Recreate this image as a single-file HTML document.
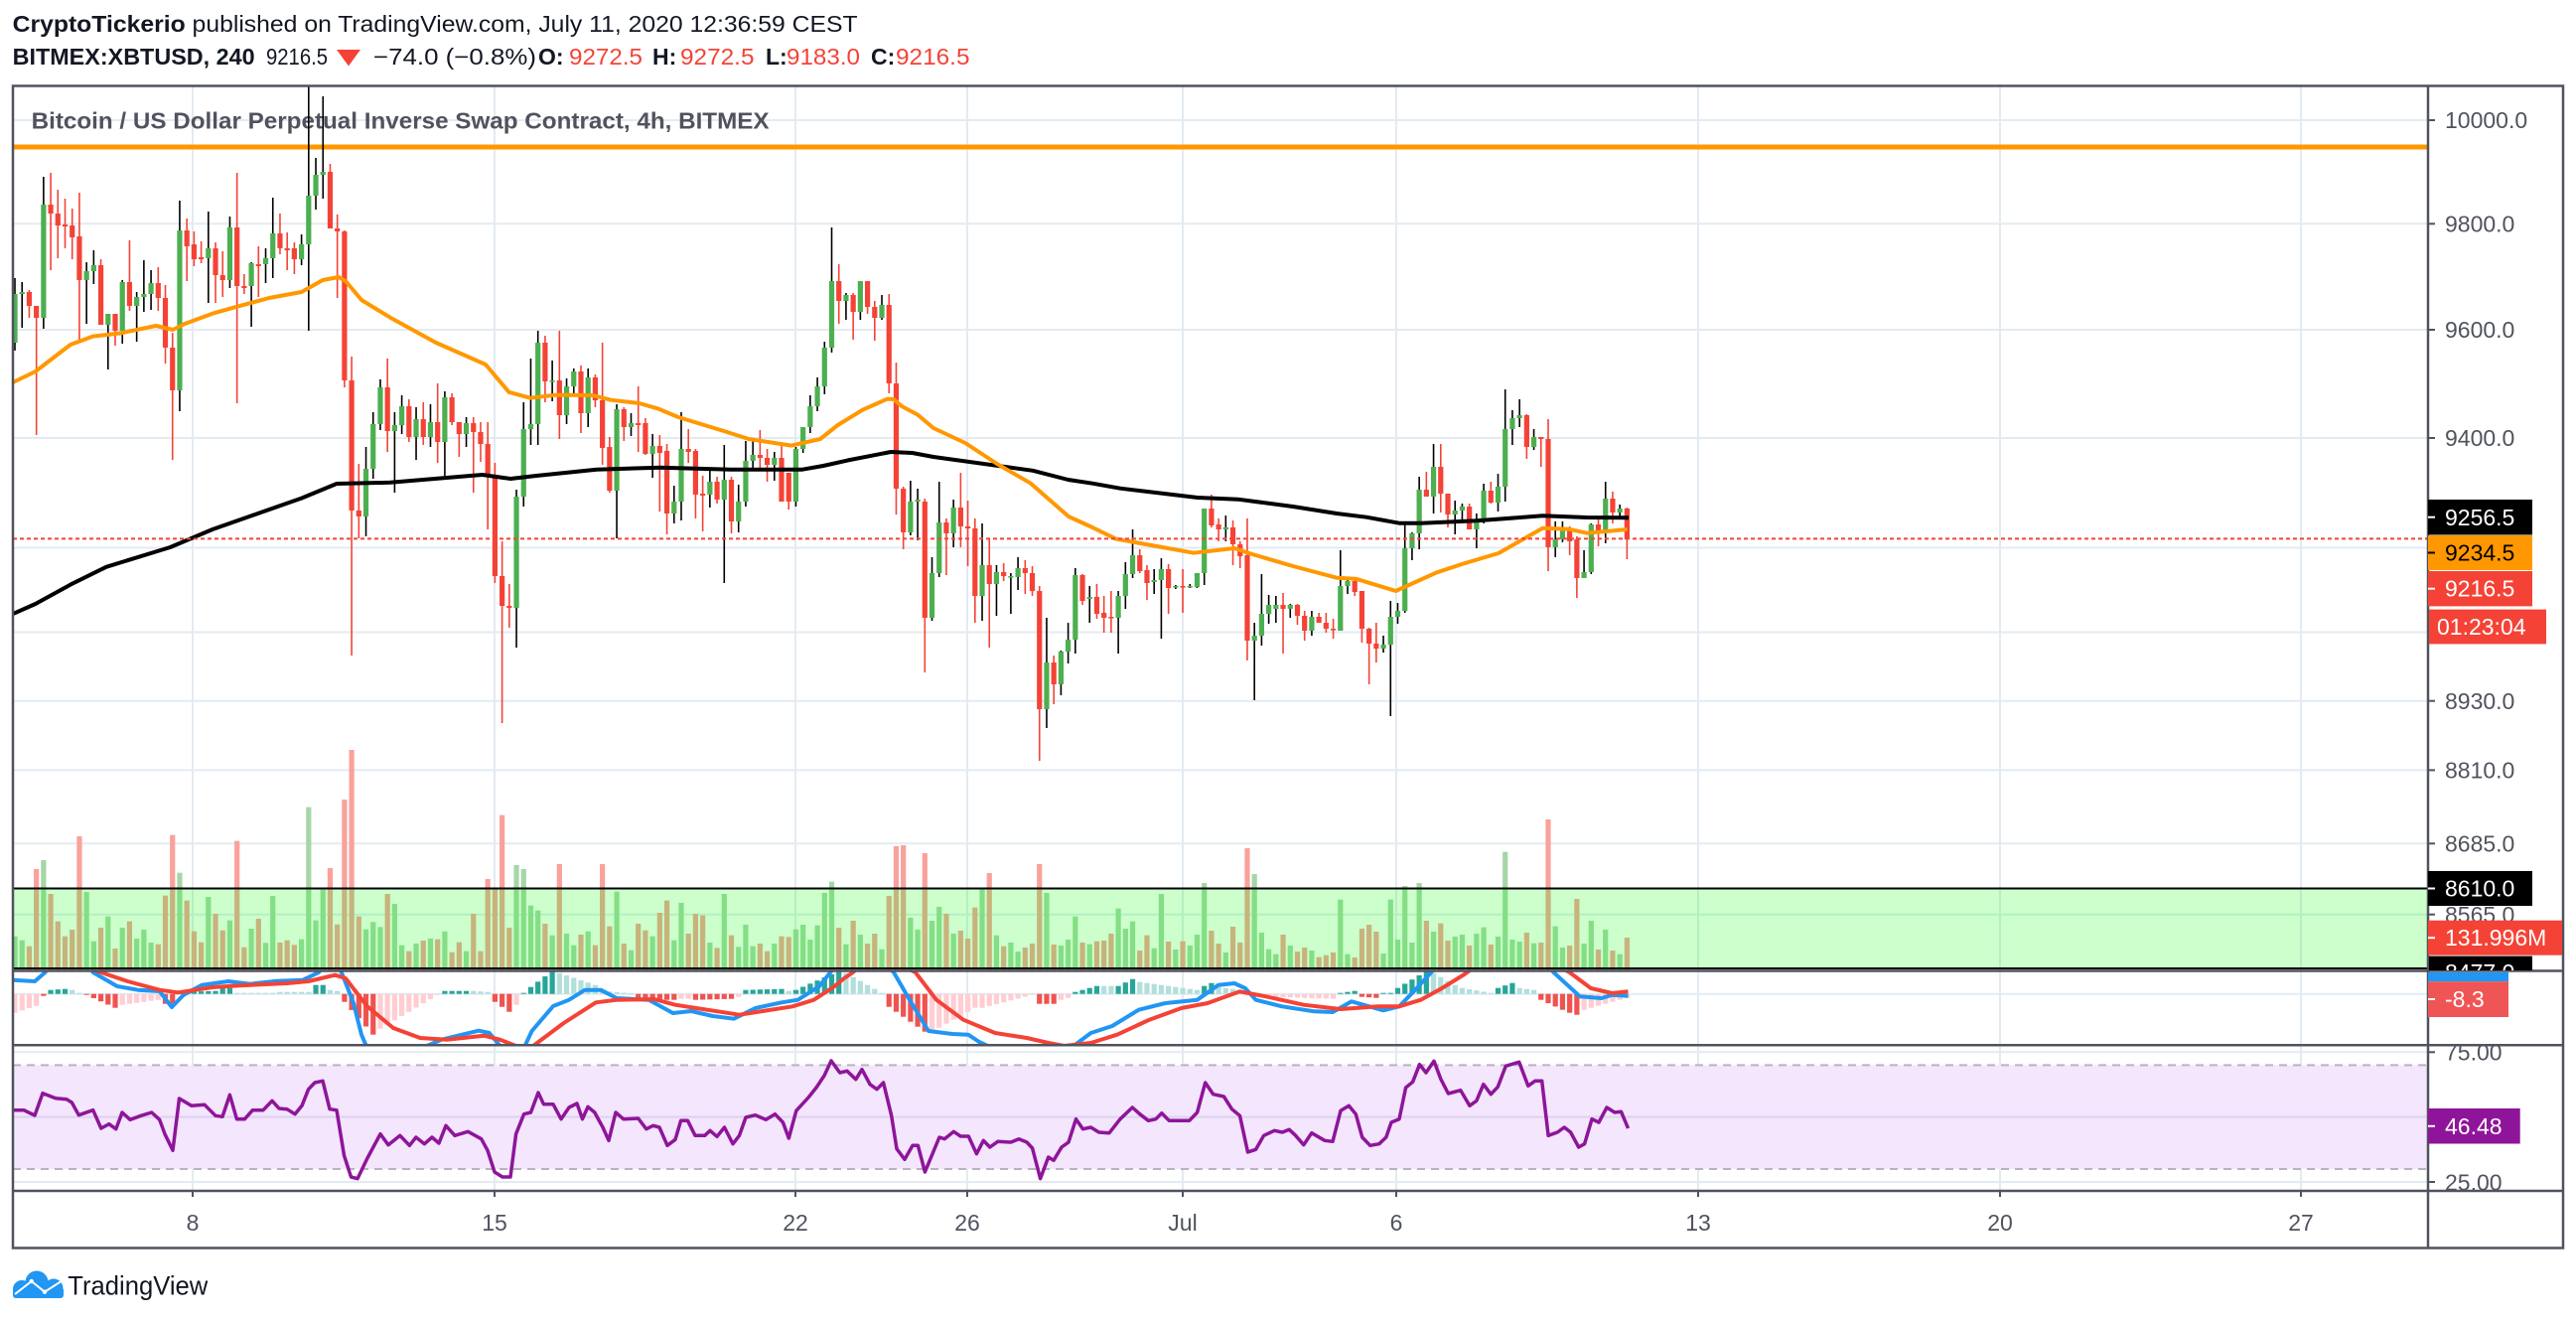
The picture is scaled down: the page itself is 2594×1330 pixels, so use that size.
<!DOCTYPE html>
<html><head><meta charset="utf-8"><style>
html,body{margin:0;padding:0;background:#fff;}
svg{display:block;}
text{font-family:"Liberation Sans",Arial,sans-serif;}
</style></head><body>
<svg id="s" width="2594" height="1330" viewBox="0 0 2594 1330" xmlns="http://www.w3.org/2000/svg">
<defs>
<clipPath id="cMain"><rect x="13" y="87" width="2432" height="890"/></clipPath>
<clipPath id="cMacd"><rect x="13" y="978.5" width="2432" height="73"/></clipPath>
<clipPath id="cRsi"><rect x="13" y="1053.5" width="2432" height="145"/></clipPath>
<clipPath id="cAx1"><rect x="2446" y="87" width="136" height="890"/></clipPath>
<clipPath id="cAx3"><rect x="2446" y="1053.5" width="136" height="145"/></clipPath>
</defs>
<rect x="0" y="0" width="2594" height="1330" fill="#fff"/>

<!-- header -->
<text x="12.6" y="32" font-size="23" fill="#131722" textLength="851" lengthAdjust="spacingAndGlyphs"><tspan font-weight="bold">CryptoTickerio</tspan> published on TradingView.com, July 11, 2020 12:36:59 CEST</text>
<text x="12.6" y="65" font-size="23" font-weight="bold" fill="#131722" textLength="244" lengthAdjust="spacingAndGlyphs">BITMEX:XBTUSD, 240</text>
<text x="268" y="65" font-size="23" fill="#131722" textLength="62" lengthAdjust="spacingAndGlyphs">9216.5</text>
<polygon points="339,50 363,50 351,66.5" fill="#f44336"/>
<text x="376" y="65" font-size="23" fill="#131722" textLength="164" lengthAdjust="spacingAndGlyphs">−74.0 (−0.8%)</text>
<text x="542" y="65" font-size="23" font-weight="bold" fill="#131722">O:</text>
<text x="573" y="65" font-size="23" fill="#f44336" textLength="74" lengthAdjust="spacingAndGlyphs">9272.5</text>
<text x="657" y="65" font-size="23" font-weight="bold" fill="#131722">H:</text>
<text x="685" y="65" font-size="23" fill="#f44336" textLength="74.5" lengthAdjust="spacingAndGlyphs">9272.5</text>
<text x="771" y="65" font-size="23" font-weight="bold" fill="#131722">L:</text>
<text x="792" y="65" font-size="23" fill="#f44336" textLength="74" lengthAdjust="spacingAndGlyphs">9183.0</text>
<text x="877" y="65" font-size="23" font-weight="bold" fill="#131722">C:</text>
<text x="902" y="65" font-size="23" fill="#f44336" textLength="74.5" lengthAdjust="spacingAndGlyphs">9216.5</text>

<!-- grid -->
<g stroke="#e3ebf2" stroke-width="2">
<line x1="194" y1="87" x2="194" y2="1199"/>
<line x1="498" y1="87" x2="498" y2="1199"/>
<line x1="801" y1="87" x2="801" y2="1199"/>
<line x1="974" y1="87" x2="974" y2="1199"/>
<line x1="1191" y1="87" x2="1191" y2="1199"/>
<line x1="1406" y1="87" x2="1406" y2="1199"/>
<line x1="1710" y1="87" x2="1710" y2="1199"/>
<line x1="2014" y1="87" x2="2014" y2="1199"/>
<line x1="2317" y1="87" x2="2317" y2="1199"/>
<line x1="13" y1="121" x2="2445" y2="121"/>
<line x1="13" y1="225.3" x2="2445" y2="225.3"/>
<line x1="13" y1="332" x2="2445" y2="332"/>
<line x1="13" y1="441" x2="2445" y2="441"/>
<line x1="13" y1="551.5" x2="2445" y2="551.5"/>
<line x1="13" y1="636.5" x2="2445" y2="636.5"/>
<line x1="13" y1="705.7" x2="2445" y2="705.7"/>
<line x1="13" y1="775.4" x2="2445" y2="775.4"/>
<line x1="13" y1="849.3" x2="2445" y2="849.3"/>
<line x1="13" y1="920.7" x2="2445" y2="920.7"/>
<line x1="13" y1="1000.7" x2="2445" y2="1000.7"/>
<line x1="13" y1="1059.3" x2="2445" y2="1059.3"/>
<line x1="13" y1="1190" x2="2445" y2="1190"/>
</g>

<!-- main pane -->
<g clip-path="url(#cMain)">
<text x="31.6" y="129.5" font-size="23" font-weight="bold" fill="#50535e" textLength="743" lengthAdjust="spacingAndGlyphs">Bitcoin / US Dollar Perpetual Inverse Swap Contract, 4h, BITMEX</text>
<line x1="13" y1="148" x2="2445" y2="148" stroke="#ff9800" stroke-width="5"/>
<g id="vol"></g>
<rect x="0" y="894.5" width="2600" height="80.5" fill="rgba(0,255,0,0.2)" stroke="#000" stroke-width="2"/>
<g id="cdl"></g>
<polyline fill="none" stroke="#000" stroke-width="4" stroke-linejoin="round" points="13,618 35.7,608 71,588.6 107,570.8 171.4,551 214,533 303.6,501.6 339,487 393,485.8 485.7,478 514,482 540,479 600.7,472.7 665,470.8 736,472.7 808,472.7 829,469 854,463.4 897,455 918.6,456 940,460 1040,473.8 1075.7,483 1100,486.7 1128,491.7 1206,501 1246.5,502.7 1302,510 1346,517 1376,520.7 1409,526.7 1431,526.7 1487,524.3 1553.5,519.3 1598,521 1640,521.3"/>
<polyline fill="none" stroke="#ff9800" stroke-width="4" stroke-linejoin="round" points="13,385 35.7,374 71,347 93.6,338.6 121,335.5 157,328 174,332 186,326 214,315.7 232,310.6 271,300 303.6,294 325,282 341,279 348,283 364,302 393,319.7 439,345 489,367 512.5,394.8 534,400.7 560,397.6 597,398 615,402.7 643.6,406 663,411.6 683,420 729,434 754,442 797,448.6 826,442 843.6,428 868.6,412.7 893.6,401.6 900,402 908,409 924,417.5 940,431 972,446 1004,467 1038,486.7 1076,520 1100,531 1124,542.7 1165,550 1202,556.7 1243,552 1261,558 1302,570 1346,581.7 1365,582.7 1405.6,595 1446,576.7 1472,568 1509,557 1553.5,531.7 1579.5,532.7 1598,536.7 1638.6,533"/>
<line x1="13" y1="542.4" x2="2445" y2="542.4" stroke="#f44336" stroke-width="2" stroke-dasharray="4 3"/>
</g>

<!-- MACD pane -->
<g clip-path="url(#cMacd)">
<g id="hist"></g>
<polyline fill="none" stroke="#2196f3" stroke-width="4" stroke-linejoin="round" points="13,986.7 35,988 45.5,979 55,965 85,965 93.7,979 118,993 139,996.7 160.7,998 173,1014 184.8,1001.7 203.5,991.7 230,988 251.7,990.7 278.5,987.7 305,986.7 321,979 330,968 340,970 345.5,983 356,1010 364,1041.7 369.6,1055 385.6,1058 423,1056 444.6,1046.7 482,1037.7 492.8,1040 503.5,1053 515,1060 527.6,1055 535.6,1038 557,1013 573,1006.7 589,996.7 605,996.7 621,1005 653.5,1006.7 677.6,1020 696,1018 717.7,1023 739,1025.7 760.6,1015 787,1009.3 803.4,1006.7 825,993 838,976.7 845,968 880,960 900,979 916,1006.7 935,1038 959,1041 975,1041.7 986,1049 996.8,1054 1040,1062 1079.8,1054 1098.5,1040 1120,1033 1146.7,1016.7 1173.5,1010 1205.6,1006.7 1227,991.7 1243,990 1254,995 1264.6,1006.7 1291,1013.3 1323.5,1018.3 1342,1019 1361,1008.3 1393,1017.3 1409,1013.3 1425,996.7 1441,979.3 1450,968 1550,962 1564.5,979 1591,1003.3 1612.7,1005 1623.4,1001.7 1639.5,1002.7"/>
<polyline fill="none" stroke="#f44336" stroke-width="4" stroke-linejoin="round" points="13,955 60,965 101.8,979 128.5,988 160.7,996.7 179.4,999.3 214,994 241,992.3 289,990 310.6,988 337.4,981.7 348,985 369.6,1013 396,1035 423,1045 450,1046.7 487.4,1042.7 503.5,1046.7 519.6,1053 535.6,1054 567.7,1030 600,1009.3 621,1006.7 659,1006 680,1011.7 744.5,1021.7 798,1013.3 819.5,1006.7 840,993.3 850,985 857.5,980 870,970 900,968 921.8,979 943,1006.7 970,1026.7 1002,1040 1034,1045 1055.7,1050 1071.7,1053 1098.5,1050 1125,1041.7 1157.4,1026.7 1189.6,1015 1216,1010 1248.5,998.3 1275,1003.3 1312.8,1011.7 1350,1016 1387.8,1013.3 1409,1013.3 1430.6,1006.7 1452,995 1473.5,981.7 1490,970 1560,968 1580.6,979 1602,995 1623.4,1000 1639.5,998.3"/>
</g>

<!-- RSI pane -->
<g clip-path="url(#cRsi)">
<rect x="13" y="1072.4" width="2432" height="104.6" fill="#f3e6fd"/>
<line x1="13" y1="1124.6" x2="2445" y2="1124.6" stroke="#ddd2ee" stroke-width="2"/>
<line x1="13" y1="1072.4" x2="2445" y2="1072.4" stroke="#b8b4be" stroke-width="2" stroke-dasharray="8 6"/>
<line x1="13" y1="1177" x2="2445" y2="1177" stroke="#b8b4be" stroke-width="2" stroke-dasharray="8 6"/>
<polyline fill="none" stroke="#8e1599" stroke-width="3.5" stroke-linejoin="round" points="13.4,1117.7 24,1117.7 35,1123 43,1100.7 56,1105.7 67,1106.7 72.3,1110 79.3,1122.7 93.7,1117.7 101.8,1136 109.8,1131.7 116.8,1136.7 123,1120 131,1127.3 142,1123.3 152.7,1120 160.7,1127.3 166,1141.7 174,1158.3 180.5,1106 192.8,1113.3 206,1112.3 217,1123.3 224,1124.3 231.4,1102.3 238.4,1126.7 246.4,1126.7 254.4,1117.7 265,1117.7 274,1108.3 281,1116 289,1116.7 297,1121.7 304,1113.3 310.6,1096.7 317,1090 325,1088.3 332,1116.7 339,1117.7 346.5,1163.3 353.5,1185 360,1186.7 369.6,1166.7 383,1141.7 391,1152.7 402.8,1143.3 412.4,1153.3 418.9,1145 427.4,1151.7 435,1145 442,1151 449,1133.3 458,1143.3 471.3,1139.3 484.7,1146.7 491,1158.3 498,1180 506,1185 514,1185 519.6,1141.7 527.6,1121.7 534.5,1120 542,1100 547.4,1111.7 557,1111.7 565,1126.7 573,1115 581,1111 586.5,1126.7 592,1114.3 598.8,1120 607,1135 613,1148.3 620,1120 627.8,1126.7 642.7,1126 650.8,1136.7 657.7,1133.3 664,1135 672,1153.3 680,1147.3 685.6,1128.3 692.5,1128.3 700,1143.3 709.7,1143.3 715,1138.3 722,1144.3 729.5,1135 738,1151.7 744.5,1143.3 751,1125 760.6,1122.7 771.3,1127.3 780.4,1121.7 788.4,1130 794.3,1146 801.8,1118.3 814,1105 822,1095 830,1083 837,1068 845.7,1080 853,1078.3 861.8,1086.7 868,1076.7 876,1091.7 883,1096.7 889.6,1090 897.7,1123.3 903,1156.7 911,1167.3 919,1153.3 924.4,1153.3 931.4,1180 939,1161.7 945.9,1145 951.2,1146.7 960.3,1139.3 967.3,1144 975.3,1144 983.4,1161.7 990.3,1148.3 996.8,1155 1004.8,1149.3 1018,1150 1026,1146.7 1034,1150 1039.6,1156 1047.6,1186.7 1055.7,1165 1061,1168.3 1069,1155 1076,1150 1083.5,1126.7 1090.5,1136.7 1098.5,1135 1106.6,1140 1117,1140.7 1128,1126.7 1140.3,1115 1147.8,1121.7 1156.4,1128.3 1163.9,1126.7 1169.8,1120.7 1177.3,1128.3 1197.6,1128.3 1205.6,1120 1213.7,1090 1221.7,1101.7 1232.4,1104 1240.5,1116.7 1248.5,1123.3 1256.5,1160 1264.6,1157.3 1272.6,1143.3 1283.3,1138.3 1291.3,1140 1298.3,1137.3 1304.7,1143.3 1312.8,1152.7 1320.8,1140.7 1334,1148.3 1342,1149.3 1350,1118.3 1358.3,1113.3 1365.3,1121.7 1371.7,1145 1379.7,1153.3 1388.8,1151.7 1395.8,1145 1401,1130 1409,1126.7 1415.6,1095 1422.6,1089.3 1429.5,1071.7 1436,1080 1444,1068.3 1451,1086.7 1458.4,1101 1470.8,1097.7 1479.9,1113.3 1486.8,1108.3 1493.8,1091.7 1501.3,1101.7 1508.3,1094.3 1516.3,1073.3 1529.7,1069.3 1538.8,1093.3 1545.8,1088.3 1552.7,1088.3 1559.1,1143.3 1568.3,1140 1575.2,1135 1581.6,1140 1589.7,1155 1595.6,1151.7 1603,1126.7 1610,1130 1618,1115 1626,1120 1632.5,1119.3 1639.5,1136"/>
</g>

<!-- borders -->
<g stroke="#50535e" stroke-width="2.5" fill="none">
<rect x="13" y="86.5" width="2568" height="1170"/>
<line x1="2445" y1="86.5" x2="2445" y2="1256.5"/>
<line x1="13" y1="977.5" x2="2581" y2="977.5"/>
<line x1="13" y1="1052.3" x2="2581" y2="1052.3"/>
<line x1="13" y1="1199" x2="2581" y2="1199"/>
</g>

<!-- price axis labels -->
<g font-size="23" fill="#50535e">
<text x="2462" y="129">10000.0</text>
<text x="2462" y="233.5">9800.0</text>
<text x="2462" y="340">9600.0</text>
<text x="2462" y="449">9400.0</text>
<text x="2462" y="714">8930.0</text>
<text x="2462" y="783.5">8810.0</text>
<text x="2462" y="857.5">8685.0</text>
<text x="2462" y="929">8565.0</text>
</g>
<g stroke="#50535e" stroke-width="2">
<line x1="2445" y1="121" x2="2452" y2="121"/>
<line x1="2445" y1="225.3" x2="2452" y2="225.3"/>
<line x1="2445" y1="332" x2="2452" y2="332"/>
<line x1="2445" y1="441" x2="2452" y2="441"/>
<line x1="2445" y1="705.7" x2="2452" y2="705.7"/>
<line x1="2445" y1="775.4" x2="2452" y2="775.4"/>
<line x1="2445" y1="849.3" x2="2452" y2="849.3"/>
<line x1="2445" y1="920.7" x2="2452" y2="920.7"/>
<line x1="2445" y1="1059.3" x2="2452" y2="1059.3"/>
<line x1="2445" y1="1190" x2="2452" y2="1190"/>
</g>
<g clip-path="url(#cAx3)" font-size="23" fill="#50535e">
<text x="2462" y="1067.5">75.00</text>
<text x="2462" y="1198.5">25.00</text>
</g>

<g font-size="23">
<rect x="2445" y="503" width="105" height="35.5" fill="#000"/>
<text x="2462" y="529" fill="#fff">9256.5</text>
<rect x="2445" y="539" width="105" height="35" fill="#ff9800"/>
<text x="2462" y="564.5" fill="#000">9234.5</text>
<rect x="2445" y="575" width="105" height="35.4" fill="#f44336"/>
<text x="2462" y="600.5" fill="#fff">9216.5</text>
<rect x="2446" y="613.6" width="118" height="34.8" fill="#f44336"/>
<text x="2454" y="639" fill="#fff">01:23:04</text>
<rect x="2445" y="877" width="105" height="35" fill="#000"/>
<text x="2462" y="902.5" fill="#fff">8610.0</text>
<rect x="2445" y="926.7" width="135" height="35" fill="#f44336"/>
<text x="2462" y="952" fill="#fff">131.996M</text>
<g clip-path="url(#cAx1)">
<rect x="2445" y="962.6" width="105" height="16" fill="#000"/>
<text x="2462" y="987" fill="#fff">8477.0</text>
</g>
<rect x="2445" y="979" width="81" height="9.2" fill="#2196f3"/>
<rect x="2445" y="988.2" width="81" height="35.8" fill="#f05555"/>
<text x="2462" y="1014" fill="#fff">-8.3</text>
<rect x="2445" y="1116" width="92.7" height="35.5" fill="#8e1599"/>
<text x="2462" y="1142" fill="#fff">46.48</text>
</g>
<g stroke="#fff" stroke-width="2">
<line x1="2445" y1="520.7" x2="2452" y2="520.7"/>
<line x1="2445" y1="556.5" x2="2452" y2="556.5" stroke="#000"/>
<line x1="2445" y1="592.7" x2="2452" y2="592.7"/>
<line x1="2445" y1="894.5" x2="2452" y2="894.5"/>
<line x1="2445" y1="944.2" x2="2452" y2="944.2"/>
<line x1="2445" y1="1006" x2="2452" y2="1006"/>
<line x1="2445" y1="1133.8" x2="2452" y2="1133.8"/>
</g>

<!-- time axis -->
<g stroke="#50535e" stroke-width="2">
<line x1="194" y1="1199" x2="194" y2="1205"/>
<line x1="498" y1="1199" x2="498" y2="1205"/>
<line x1="801" y1="1199" x2="801" y2="1205"/>
<line x1="974" y1="1199" x2="974" y2="1205"/>
<line x1="1191" y1="1199" x2="1191" y2="1205"/>
<line x1="1406" y1="1199" x2="1406" y2="1205"/>
<line x1="1710" y1="1199" x2="1710" y2="1205"/>
<line x1="2014" y1="1199" x2="2014" y2="1205"/>
<line x1="2317" y1="1199" x2="2317" y2="1205"/>
</g>
<g font-size="23" fill="#50535e" text-anchor="middle">
<text x="194" y="1239">8</text>
<text x="498" y="1239">15</text>
<text x="801" y="1239">22</text>
<text x="974" y="1239">26</text>
<text x="1191" y="1239">Jul</text>
<text x="1406" y="1239">6</text>
<text x="1710" y="1239">13</text>
<text x="2014" y="1239">20</text>
<text x="2317" y="1239">27</text>
</g>

<!-- logo -->
<g fill="#2196f3">
<circle cx="22" cy="1298" r="9"/>
<circle cx="37" cy="1291" r="11.5"/>
<circle cx="54" cy="1297" r="9.5"/>
<rect x="13" y="1296" width="51" height="11" rx="3"/>
</g>
<polyline points="15,1303 31.7,1290 45,1300.7 61.7,1290" fill="none" stroke="#fff" stroke-width="2"/>
<circle cx="31.7" cy="1290" r="2.2" fill="#fff"/>
<circle cx="45" cy="1300.7" r="2.2" fill="#fff"/>
<text x="68.3" y="1303.3" font-size="27" fill="#131722" textLength="141" lengthAdjust="spacingAndGlyphs">TradingView</text>
</svg>
<script>
(function(){
var C=[[296,345,280,353,1],[294,296,284,330,1],[294,308,292,320,0],[308,320,308,438,0],[206,320,178,331,1],[206,215,174,272,0],[215,227,191,260,0],[226,228,200,250,0],[227,239,210,261,0],[238,282,194,343,0],
[273,282,264,326,1],[267,273,252,286,1],[267,327,261,327,0],[316,327,316,372,1],[316,333,316,348,0],[284,333,282,346,1],[284,308,242,313,0],[299,308,294,344,1],[296,299,262,314,1],[285,296,272,312,1],
[285,300,269,313,0],[300,350,287,366,0],[350,393,335,463,0],[232,393,202,414,1],[232,248,220,283,0],[246,261,233,268,0],[259,261,243,265,0],[250,260,213,305,1],[250,277,244,305,0],[277,282,253,299,0],
[229,282,218,290,1],[229,288,174,406,0],[288,290,276,296,0],[265,288,264,329,1],[266,268,248,299,0],[260,266,250,285,1],[235,260,199,280,1],[235,250,215,256,0],[250,252,234,272,0],[250,261,244,276,0],
[246,261,236,267,1],[197,246,87,333,1],[176,197,159,211,1],[173,176,97,200,1],[173,230,165,230,0],[230,233,216,300,0],[233,383,232,390,0],[383,514,359,660,0],[514,520,467,542,0],[472,520,450,540,1],
[427,472,415,482,1],[390,427,382,433,1],[390,434,361,455,0],[428,434,415,496,1],[409,428,398,437,1],[409,440,402,445,0],[422,440,410,463,1],[422,440,405,448,0],[425,440,407,450,1],[425,445,386,466,0],
[400,445,394,479,1],[400,425,396,428,0],[425,437,425,460,0],[426,437,420,450,1],[426,435,420,496,0],[435,447,425,465,0],[447,480,425,533,0],[480,580,466,587,0],[580,610,545,728,0],[610,612,588,632,0],
[500,612,493,652,1],[432,500,405,510,1],[427,432,361,448,1],[345,427,333,448,1],[345,384,338,405,0],[383,384,363,404,1],[383,418,333,442,0],[389,418,381,427,1],[374,389,371,396,1],[374,416,368,436,0],
[380,416,371,430,1],[380,403,377,410,0],[403,451,345,468,0],[450,494,440,496,0],[412,494,407,542,1],[412,430,410,444,0],[426,430,416,439,1],[426,428,389,455,0],[426,457,421,458,0],[449,457,437,481,1],
[449,456,438,515,0],[454,517,447,538,0],[505,517,489,527,1],[452,505,415,524,1],[452,455,432,466,0],[454,498,452,522,0],[497,499,479,535,0],[485,498,474,511,1],[485,503,480,507,0],[483,503,448,587,1],
[483,525,480,537,0],[505,525,488,536,1],[464,505,444,510,1],[458,464,444,472,1],[458,461,433,474,0],[461,468,452,485,0],[461,468,455,484,1],[461,505,447,505,0],[476,505,476,513,0],[452,505,450,510,1],
[430,452,430,456,1],[409,430,398,436,1],[389,409,380,414,1],[350,389,344,397,1],[283,350,229,355,1],[283,303,266,326,0],[297,303,295,322,1],[297,314,295,342,0],[283,314,283,322,1],[283,309,283,316,0],
[309,320,303,343,0],[307,320,297,322,1],[307,386,296,396,0],[386,492,365,518,0],[492,536,490,553,0],[505,536,484,539,1],[503,505,492,544,1],[505,622,502,677,0],[577,622,561,625,1],[526,577,485,581,1],
[526,537,522,579,0],[511,537,503,551,1],[511,530,476,551,0],[530,532,504,570,0],[532,600,522,627,0],[569,600,527,625,1],[569,588,542,652,0],[576,588,569,620,1],[576,580,567,585,0],[580,581,577,618,1],
[572,581,561,594,1],[572,577,564,598,0],[577,595,570,600,0],[595,714,590,766,0],[667,714,622,733,1],[667,689,660,709,0],[656,689,655,700,1],[644,656,627,668,1],[579,644,572,658,1],[579,605,578,609,0],
[601,603,590,627,1],[601,618,588,623,0],[617,622,600,637,0],[621,622,595,637,0],[600,622,595,658,1],[578,600,566,613,1],[559,578,533,582,1],[559,575,553,577,0],[574,587,569,604,0],[584,586,573,598,1],
[573,584,562,643,1],[573,592,568,618,0],[590,591,589,593,1],[590,591,573,617,0],[590,591,588,592,1],[577,591,577,592,1],[512,577,512,589,1],[512,529,498,531,0],[528,533,522,545,0],[531,533,519,545,1],
[531,548,524,569,0],[548,560,545,572,0],[559,645,522,665,0],[640,645,627,705,1],[618,640,578,650,1],[609,618,599,628,1],[609,613,600,627,1],[609,613,597,658,0],[609,613,608,622,1],[609,620,608,629,0],
[620,635,615,645,0],[621,635,615,640,1],[621,627,617,627,0],[627,633,617,637,0],[633,634,623,643,0],[590,635,554,635,1],[585,590,583,598,1],[585,596,583,600,0],[595,633,595,647,0],[633,648,632,689,0],
[648,653,627,667,0],[649,653,640,657,1],[621,649,605,721,1],[615,621,607,628,1],[552,615,528,617,1],[537,552,536,564,1],[493,537,480,553,1],[493,500,475,500,0],[470,500,447,517,1],[470,497,447,516,0],
[497,518,497,531,0],[514,518,504,538,1],[510,514,507,527,1],[510,533,507,533,0],[523,533,517,552,1],[494,523,487,527,1],[494,506,485,507,0],[490,506,477,515,1],[432,490,392,505,1],[421,432,413,448,1],
[418,421,402,430,1],[418,450,417,462,0],[440,450,432,453,1],[440,442,440,470,0],[442,551,422,575,0],[543,551,525,561,1],[533,543,525,546,1],[533,545,530,559,0],[543,582,540,602,0],[576,582,554,582,1],
[528,576,527,578,1],[528,535,523,550,0],[502,535,485,547,1],[502,516,495,527,0],[512,516,508,520,1],[512,543,511,563,0]];
var V=[608,620,638,405,378,480,563,608,588,306,474,623,582,548,645,582,563,615,588,627,632,485,302,416,500,593,626,489,540,590,560,320,641,585,555,628,486,627,620,634,617,218,560,467,402,572,195,45,548,587,565,580,480,510,635,653,630,621,615,617,593,656,626,653,540,653,435,462,242,582,393,405,515,530,570,605,390,600,635,603,593,635,390,578,473,630,650,570,590,608,537,500,620,507,600,540,545,627,643,480,605,640,573,638,630,653,630,608,610,587,573,618,575,477,443,
582,632,561,603,630,600,647,486,336,333,552,588,357,561,519,540,600,591,615,521,462,417,605,638,627,654,642,630,390,477,633,636,618,548,627,632,623,621,600,524,585,563,651,605,644,480,624,648,623,636,603,447,591,630,657,579,627,342,420,597,647,662,603,636,654,642,651,671,665,657,497,662,672,585,573,594,660,497,618,456,627,447,561,594,569,621,609,603,636,600,581,633,609,353,618,624,597,629,627,255,578,642,636,495,630,561,648,588,651,662,612];
var H=[[0,3,-19,-12,'lr'],[4,4,-2,-2,'r'],[5,7,4,5,'t'],[8,9,4,1,'lt'],[10,14,-1,-14,'r'],[15,20,-11,-6,'lr'],[21,22,-10,-10,'r'],[23,28,2,3,'t'],[29,30,6,6,'t'],[31,36,1,1,'lt'],[37,41,2,2,'lt'],[42,43,9,9,'t'],[44,45,4,3,'lt'],[46,50,-8,-41,'r'],[51,59,-35,-1,'lr'],[60,63,3,3,'t'],[64,66,3,2,'lt'],[67,69,-8,-18,'r'],[70,70,-11,-11,'lr'],[71,71,1,1,'t'],[72,75,7,23,'t'],[76,81,21,9,'lt'],[82,86,3,0.5,'lt'],[87,92,-6,-6,'r'],[93,94,-5,-5,'lr'],[95,100,-6,-5,'r'],[101,101,-3,-3,'lr'],[102,107,4,5,'t'],[108,108,3,3,'lt'],[109,115,4,23,'t'],[116,121,21,1,'lt'],[122,127,-13,-38,'r'],[128,134,-38,-14,'lr'],[135,142,-14,-1,'lr'],[143,145,-10,-10,'r'],[146,147,-6,-4,'lr'],[148,151,2,8,'t'],[152,153,8,8,'lt'],[154,156,8,15,'t'],[157,165,12,4,'lt'],[166,167,8,11,'t'],[168,171,7,4,'lt'],[172,175,-1,-1,'lr'],[176,184,-3,-5,'lr'],[185,187,1,3,'t'],[188,190,-3,-4,'r'],[191,192,1,1,'t'],[193,197,6,23,'t'],[198,201,21,9,'lt'],[202,206,6,1,'lt'],[207,209,6,11,'t'],[210,212,6,4,'lt'],[213,216,-6,-16,'r'],[217,218,-19,-21,'r'],[219,225,-16,-4,'lr']];
var HC={t:'#26a69a',lt:'#b2dfdb',r:'#ef5350',lr:'#ffcdd2'};
var sx=7.215,x0=15,bw=5.2;
var sc='',sv='',sh='';
for(var i=0;i<C.length;i++){
 var c=C[i],x=x0+i*sx,g=c[4];
 var bh=Math.max(c[1]-c[0],1.6);
 sc+='<line x1="'+x+'" y1="'+c[2]+'" x2="'+x+'" y2="'+c[3]+'" stroke="'+(g?'#000':'#f44336')+'" stroke-width="1.6"/>';
 sc+='<rect x="'+(x-bw/2)+'" y="'+c[0]+'" width="'+bw+'" height="'+bh+'" fill="'+(g?'#4caf50':'#f44336')+'"/>';
 var top=740+V[i]/3;
 sv+='<rect x="'+(x-bw/2)+'" y="'+top+'" width="'+bw+'" height="'+(977-top)+'" fill="'+(g?'#a5d6a7':'#faa19b')+'"/>';
}
for(var k=0;k<H.length;k++){
 var s=H[k];
 for(var j=s[0];j<=s[1];j++){
  var t=(s[1]==s[0])?0:(j-s[0])/(s[1]-s[0]);
  var h=s[2]+(s[3]-s[2])*t, xx=x0+j*sx;
  var y=h>0?1000.7-h:1000.7, hh=Math.max(Math.abs(h),1);
  sh+='<rect x="'+(xx-bw/2)+'" y="'+y+'" width="'+bw+'" height="'+hh+'" fill="'+HC[s[4]]+'"/>';
 }
}
var NS='http://www.w3.org/2000/svg';
function put(id,str){var el=document.getElementById(id);var tmp=new DOMParser().parseFromString('<svg xmlns="'+NS+'">'+str+'</svg>','image/svg+xml').documentElement;while(tmp.firstChild){el.appendChild(document.importNode(tmp.firstChild,true));tmp.removeChild(tmp.firstChild);}}
put('cdl',sc);put('vol',sv);put('hist',sh);
})();
</script>
</body></html>
